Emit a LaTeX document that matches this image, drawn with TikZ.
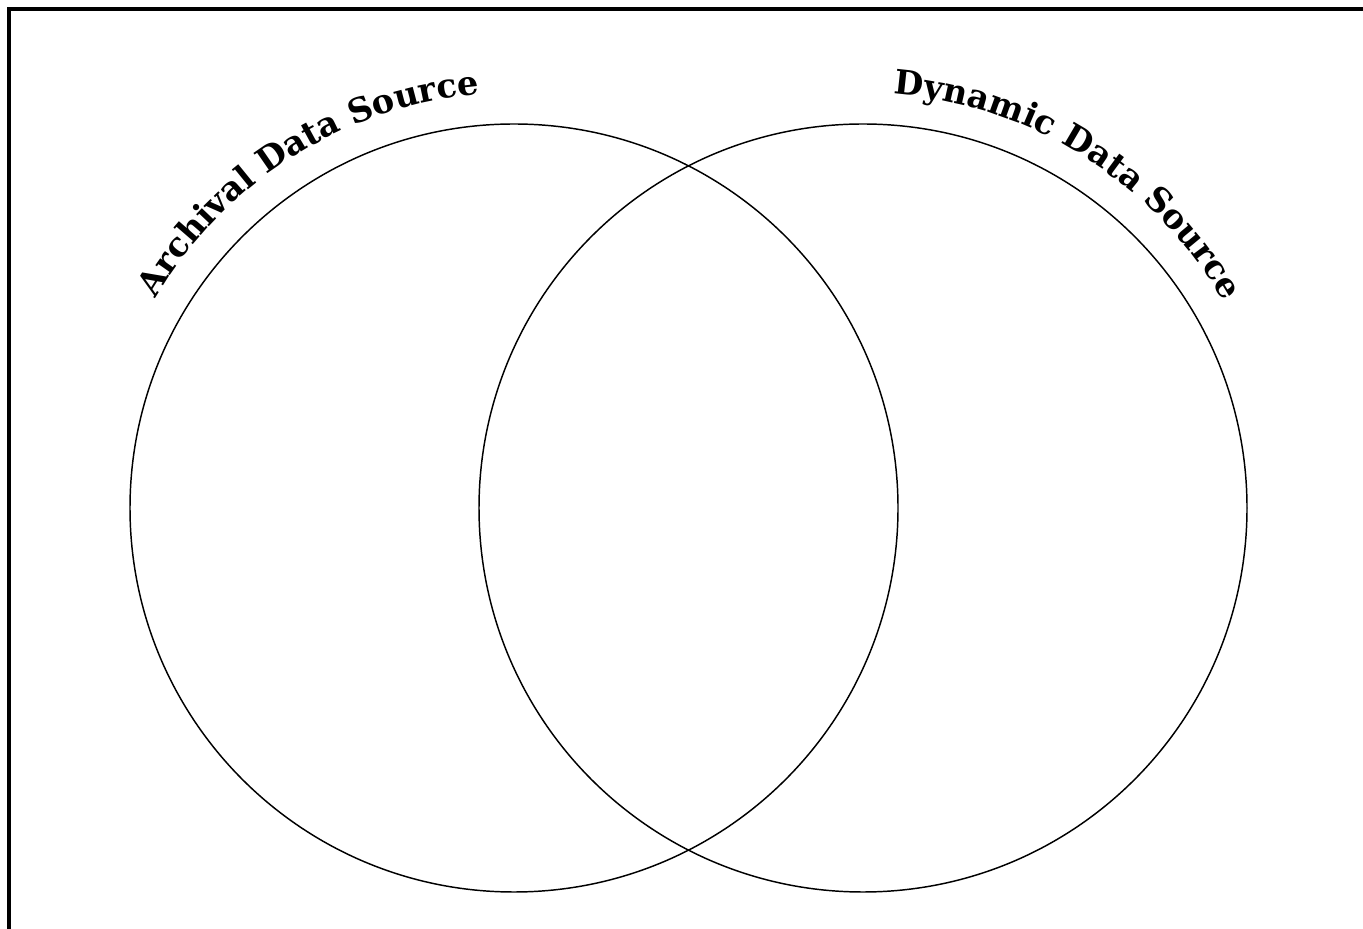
\documentclass[tikz,border=0pt]{standalone}
\usepackage{fontspec}
\newfontfamily\labelfont{DejaVu Serif}
\usetikzlibrary{decorations.text}
\tikzset{
  frame/.style={line width=2.8pt, black},
  venn/.style={line width=1.1pt, black},
  arclabel/.style={decorate, decoration={text along path, text align=center,
     text={|\labelfont\bfseries\fontsize{25.2}{29}\selectfont|#1}}}
}
\begin{document}
\begin{tikzpicture}[x=0.75pt,y=0.75pt]
\useasboundingbox (0,0) rectangle (1363,928);
\clip (0,0) rectangle (1363,928);
\fill[white] (0,0) rectangle (1363,928);
\draw[frame] (8.7,-20) |- (1400,918.7);
\coordinate (L) at (514,420);
\coordinate (R) at (863,420);
\draw[venn] (L) circle[radius=384];
\draw[venn] (R) circle[radius=384];
\path[arclabel={Archival Data Source}] (L) ++(158:415) arc[start angle=158, end angle=86.5, radius=415];
\path[arclabel={Dynamic Data Source}] (R) ++(93.5:415) arc[start angle=93.5, end angle=22, radius=415];
\end{tikzpicture}
\end{document}
